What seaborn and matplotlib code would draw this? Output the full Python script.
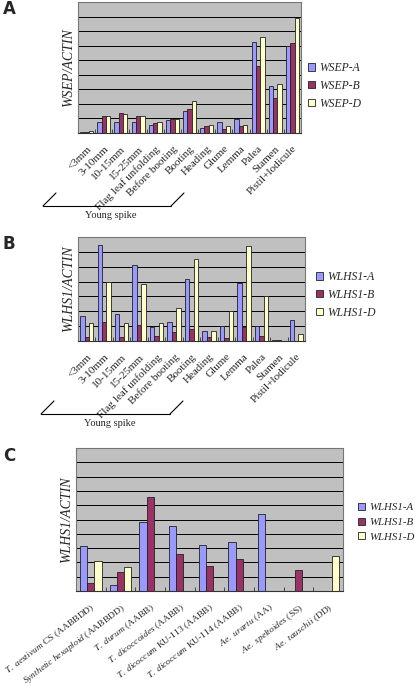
import numpy as np
import pandas as pd
import matplotlib
matplotlib.use("Agg")
import matplotlib.pyplot as plt
import matplotlib.transforms as mtrans
from matplotlib.lines import Line2D
import seaborn as sns

sns.set_theme(style="white")
plt.rcParams['font.family'] = ['Liberation Serif', 'DejaVu Serif']
plt.rcParams['mathtext.fontset'] = 'custom'
plt.rcParams['mathtext.rm'] = 'Liberation Serif'
plt.rcParams['mathtext.it'] = 'Liberation Serif:italic'

# ---------------- data ----------------
tissues = ["<3mm", "3-10mm", "10-15mm", "15-25mm", "Flag leaf unfolding",
           "Before booting", "Booting", "Heading", "Glume", "Lemma", "Palea",
           "Stamen", "Pistil+lodicule"]

wsep_series = ["WSEP-A", "WSEP-B", "WSEP-D"]
wsep_a = [0.10, 0.75, 0.75, 0.75, 0.57, 0.87, 1.48, 0.36, 0.73, 0.95, 6.23, 3.25, 5.98]
wsep_b = [0.10, 1.20, 1.35, 1.20, 0.70, 0.95, 1.68, 0.48, 0.27, 0.48, 4.57, 2.39, 6.16]
wsep_d = [0.15, 1.15, 1.30, 1.15, 0.75, 0.93, 2.18, 0.55, 0.50, 0.55, 6.60, 3.36, 7.90]

wlhs_series = ["WLHS1-A", "WLHS1-B", "WLHS1-D"]
wlhs_a = [1.67, 6.44, 1.84, 5.11, 0.96, 1.27, 4.18, 0.64, 0.98, 3.91, 0.98, 0.04, 1.44]
wlhs_b = [0.24, 1.31, 0.24, 1.09, 0.31, 0.58, 0.84, 0.24, 0.18, 0.91, 0.31, 0.04, 0.00]
wlhs_d = [1.22, 3.96, 1.22, 3.84, 1.18, 2.24, 5.51, 0.64, 2.04, 6.40, 3.04, 0.00, 0.44]

species_italic = ["T. aestivum", "Synthetic hexaploid", "T. durum", "T. dicoccoides",
                  "T. dicoccum", "T. dicoccum", "Ae. urartu", "Ae. speltoides", "Ae. tauschii"]
species_rest = ["CS (AABBDD)", "(AABBDD)", "(AABB)", "(AABB)", "KU-113 (AABB)",
                "KU-114 (AABB)", "(AA)", "(SS)", "(DD)"]
species = [f"{i} {r}" for i, r in zip(species_italic, species_rest)]
sp_a = [3.18, 0.42, 4.81, 4.53, 3.20, 3.46, 5.37, 0.00, 0.00]
sp_b = [0.56, 1.33, 6.54, 2.57, 1.78, 2.24, 0.00, 1.45, 0.00]
sp_d = [2.10, 1.68, 0.00, 0.00, 0.00, 0.00, 0.00, 0.00, 2.43]

colors = ["#9999FF", "#993366", "#FFFFCC"]

W, H = 415, 686
fig = plt.figure(figsize=(W / 100, H / 100), dpi=100)


def ax_at(left, top, right, bottom):
    return fig.add_axes([left / W, 1 - bottom / H, (right - left) / W, (bottom - top) / H])


def long_df(cats, names, vals):
    rows = []
    for n, v in zip(names, vals):
        for c, x in zip(cats, v):
            rows.append({"cat": c, "series": n, "value": x})
    return pd.DataFrame(rows)


def panel(ax, cats, names, vals, ymax, width, ylabel, ticklabels, rot, fs_tick, dx=0):
    df = long_df(cats, names, vals)
    sns.barplot(data=df, x="cat", y="value", hue="series", order=cats,
                hue_order=names, palette=colors, width=width, ax=ax,
                edgecolor="#222222", linewidth=0.6, saturation=1, zorder=3)
    ax.set_facecolor("#C0C0C0")
    ax.set_ylim(0, ymax)
    ax.set_xlim(-0.5, len(cats) - 0.5)
    ax.set_yticks(np.arange(0, ymax + 1))
    ax.yaxis.grid(True, color="#000000", linewidth=0.7, zorder=1)
    ax.set_axisbelow(True)
    ax.tick_params(axis="y", left=False, labelleft=False)
    ax.set_xticks(range(len(cats)))
    ax.set_xticklabels(ticklabels, rotation=rot, ha="right",
                       rotation_mode="anchor", fontsize=fs_tick)
    if dx:
        off = mtrans.ScaledTranslation(dx / 100, 0, fig.dpi_scale_trans)
        for t in ax.get_xticklabels():
            t.set_transform(t.get_transform() + off)
    ax.tick_params(axis="x", bottom=False, pad=2)
    ax.set_xticks(np.arange(0.5, len(cats) - 0.5, 1), minor=True)
    ax.tick_params(axis="x", which="minor", bottom=True, direction="in",
                   length=3, width=0.6, color="#333333")
    for s in ax.spines.values():
        s.set_color("#777777")
        s.set_linewidth(0.8)
        s.set_zorder(5)
    ax.spines["bottom"].set_color("#333333")
    ax.set_xlabel("")
    ax.set_ylabel(ylabel, fontsize=10, style="italic", labelpad=2)
    handles, labels = ax.get_legend_handles_labels()
    ax.get_legend().remove()
    return handles, labels


def legend(handles, labels, x, y, size=8.4):
    fig.legend(handles, labels, loc="upper left",
               bbox_to_anchor=(x / W, 1 - y / H), frameon=False,
               prop={"family": "Liberation Serif", "style": "italic", "size": size},
               handlelength=0.6, handleheight=0.6, handletextpad=0.4,
               labelspacing=0.5, borderaxespad=0, borderpad=0)


def bracket(ybase, xl, xr, rise):
    for xs, ys in [([xl, xr], [ybase, ybase]),
                   ([xl, xl + 13], [ybase, ybase - rise]),
                   ([xr, xr + 13], [ybase, ybase - rise])]:
        fig.add_artist(Line2D([x / W for x in xs], [1 - y / H for y in ys],
                              color="black", linewidth=0.8))
    fig.text(((xl + xr) / 2 + 4) / W, 1 - (ybase + 10) / H, "Young spike",
             ha="center", va="center", fontsize=7.5)


# Panel A
axA = ax_at(78, 2, 301, 133)
h, l = panel(axA, tissues, wsep_series, [wsep_a, wsep_b, wsep_d], 9, 0.76,
             "WSEP/ACTIN", tissues, 45, 8)
legend(h, l, 308, 62)
bracket(206, 43, 171, 13)
fig.text(3 / W, 1 - 9 / H, "A", fontsize=12, fontweight="bold",
         family="DejaVu Sans", va="center")

# Panel B
axB = ax_at(78, 237, 305, 341)
h, l = panel(axB, tissues, wlhs_series, [wlhs_a, wlhs_b, wlhs_d], 7, 0.76,
             "WLHS1/ACTIN", tissues, 45, 8)
legend(h, l, 316, 271)
bracket(414, 41, 170, 13)
fig.text(3 / W, 1 - 244 / H, "B", fontsize=12, fontweight="bold",
         family="DejaVu Sans", va="center")

# Panel C
sp_labels = []
for it, rest in zip(species_italic, species_rest):
    sp_labels.append(r"$\mathit{" + it.replace(" ", r"\ ") + r"}$ " + rest)
axC = ax_at(76, 448, 343, 591)
h, l = panel(axC, species, wlhs_series, [sp_a, sp_b, sp_d], 10, 0.72,
             "WLHS1/ACTIN", sp_labels, 37, 6.8, dx=8)
legend(h, l, 358, 503, size=7.8)
fig.text(3 / W, 1 - 456 / H, "C", fontsize=12, fontweight="bold",
         family="DejaVu Sans", va="center")

fig.savefig("out.png", dpi=100)
